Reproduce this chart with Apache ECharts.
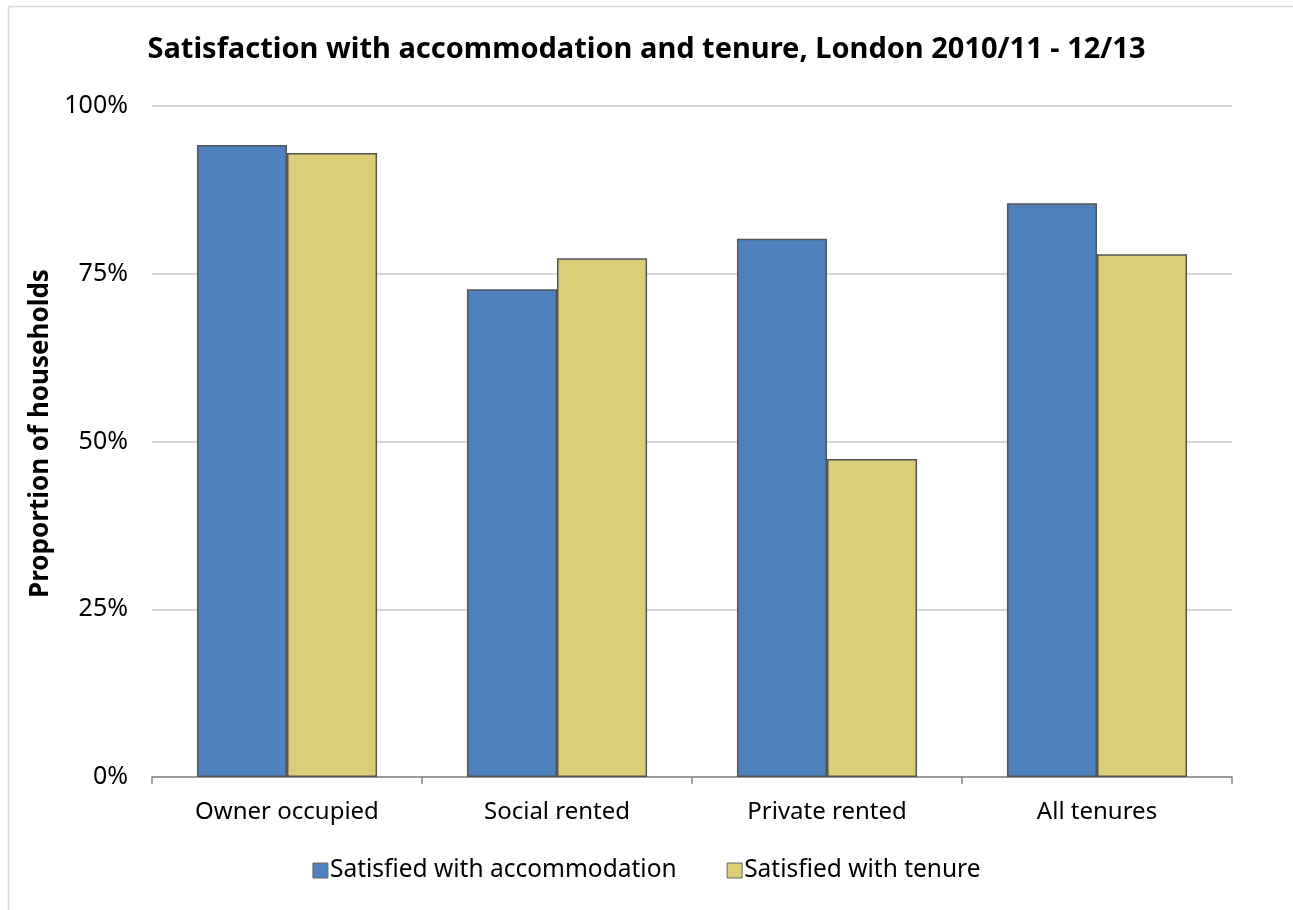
<!DOCTYPE html>
<html><head><meta charset="utf-8">
<script src="https://cdn.jsdelivr.net/npm/echarts@6/dist/echarts.min.js"></script>
<style>html,body{margin:0;padding:0;background:#fff}#c{width:1293px;height:910px}</style>
</head><body><div id="c"></div>
<script>
const categories = ['Owner occupied', 'Social rented', 'Private rented', 'All tenures'];
const accommodation = [94.2, 72.7, 80.2, 85.5];
const tenure = [93.0, 77.3, 47.4, 77.9];
const seriesNames = ['Satisfied with accommodation', 'Satisfied with tenure'];
const yTicks = [0, 25, 50, 75, 100];

const FONT = '"Noto Sans", "Open Sans", sans-serif';
const chart = echarts.init(document.getElementById('c'));
chart.setOption({
  animation: false,
  backgroundColor: '#fff',
  graphic: [{
    type: 'rect', shape: { x: 8.5, y: 6.5, width: 1300, height: 920 },
    style: { fill: 'none', stroke: '#d9d9d9', lineWidth: 1.5 }, silent: true
  }],
  title: {
    text: 'Satisfaction with accommodation and tenure, London 2010/11 - 12/13',
    left: 'center', top: 30,
    textStyle: { fontFamily: FONT, fontSize: 29, fontWeight: 'bold', color: '#000' }
  },
  legend: {
    data: seriesNames, bottom: 22, left: 'center',
    itemWidth: 15, itemHeight: 15, itemGap: 50,
    icon: 'rect',
    itemStyle: { borderColor: '#666', borderWidth: 1 },
    textStyle: { fontFamily: FONT, fontSize: 24.5, color: '#000', padding: [0, 0, 0, -3] }
  },
  grid: { left: 152, right: 61, top: 106, bottom: 133 },
  xAxis: {
    type: 'category', data: categories,
    axisLine: { lineStyle: { color: '#888', width: 1.5 } },
    axisTick: { show: true, length: 7, lineStyle: { color: '#888', width: 1.5 } },
    axisLabel: { fontFamily: FONT, fontSize: 24, color: '#000', margin: 23 }
  },
  yAxis: {
    type: 'value', min: 0, max: 100, interval: 25,
    name: 'Proportion of households', nameLocation: 'middle', nameGap: 97, nameRotate: 90,
    nameTextStyle: { fontFamily: FONT, fontSize: 26, fontWeight: 'bold', color: '#000', padding: [0, 0, 0, 16] },
    axisLine: { show: false }, axisTick: { show: false },
    axisLabel: { fontFamily: FONT, fontSize: 25, color: '#000', margin: 24,
      formatter: v => yTicks.includes(v) ? v + '%' : '' },
    splitLine: { lineStyle: { color: '#c8c8c8', width: 1.5 } }
  },
  series: [
    { name: seriesNames[0], type: 'bar', data: accommodation, barGap: '0%', barCategoryGap: '33.3%',
      itemStyle: { color: '#4f81bd', borderColor: '#555', borderWidth: 1.5 } },
    { name: seriesNames[1], type: 'bar', data: tenure,
      itemStyle: { color: '#dccd78', borderColor: '#555', borderWidth: 1.5 } }
  ]
});
</script></body></html>
